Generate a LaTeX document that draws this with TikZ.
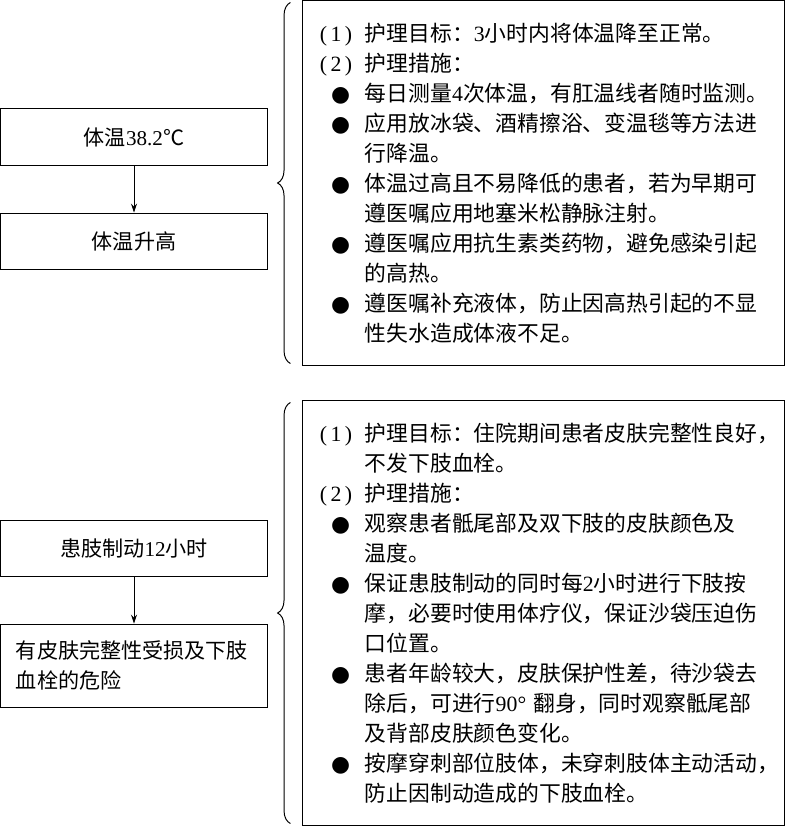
\documentclass[tikz,border=0pt]{standalone}
\usepackage{fontspec}
\setmainfont{Noto Sans CJK SC}
\newfontfamily\latin{Liberation Serif}
\newfontfamily\symb{DejaVu Sans}
\usetikzlibrary{
arrows.meta,
positioning,
decorations.pathreplacing
}

\newcommand{\nr}[1]{{\latin #1}}
\newcommand{\lead}[1]{\makebox[1.125cm][l]{#1}}
\newcommand{\head}[1]{\makebox[1.125cm][s]{\latin(\hfill#1\hfill)\hspace*{0.32cm}}}
\newcommand{\dotitem}{\lead{\hspace*{0.28cm}{\symb ●}}}

\begin{document}
\begin{tikzpicture}[
x=0.025cm, y=-0.025cm,
node distance=1.175cm,
font=\fontsize{15pt}{21.34pt}\selectfont,
box/.style={
draw,
line width=0.7pt,
minimum width=6.65cm,
minimum height=1.4cm,
align=center
},
panel/.style={
draw,
line width=0.7pt,
minimum width=12.025cm,
text width=11.175cm,
inner xsep=0.425cm,
align=left,
font=\fontsize{15.5pt}{21.34pt}\selectfont
},
brace/.style={
decorate,
decoration={brace,amplitude=0.32cm},
line width=0.7pt
},
arrow/.style={-{Stealth[length=2.2mm,width=1.5mm]},line width=0.7pt}
]
\useasboundingbox (0,0) rectangle (786,827);

% upper part
\node[box] (temp) at (134,137) {体温\nr{38.2}℃};
\node[box,below=of temp] (fever) {体温升高};
\draw[arrow] (temp) -- (fever);

\node[panel,minimum height=9.1cm] (care1) at (543.5,183) {%
\head{1}护理目标：\nr{3}小时内将体温降至正常。\\
\head{2}护理措施：\\
\dotitem 每日测量\nr{4}次体温，有肛温线者随时监测。\\
\dotitem 应用放冰袋、酒精擦浴、变温毯等方法进\\
\lead{}行降温。\\
\dotitem 体温过高且不易降低的患者，若为早期可\\
\lead{}遵医嘱应用地塞米松静脉注射。\\
\dotitem 遵医嘱应用抗生素类药物，避免感染引起\\
\lead{}的高热。\\
\dotitem 遵医嘱补充液体，防止因高热引起的不显\\
\lead{}性失水造成体液不足。};

\draw[brace] ([xshift=-0.3cm,yshift=0.05cm]care1.south west) -- ([xshift=-0.3cm,yshift=-0.05cm]care1.north west);

% lower part
\node[box] (rest) at (134,548) {患肢制动\nr{12}小时};
\node[box,below=of rest,minimum height=2.075cm,text width=5.9cm,inner xsep=0.375cm,align=left] (risk) {有皮肤完整性受损及下肢\\血栓的危险};
\draw[arrow] (rest) -- (risk);

\node[panel,minimum height=10.6cm] (care2) at (543.5,613) {%
\head{1}护理目标：住院期间患者皮肤完整性良好，\\
\lead{}不发下肢血栓。\\
\head{2}护理措施：\\
\dotitem 观察患者骶尾部及双下肢的皮肤颜色及\\
\lead{}温度。\\
\dotitem 保证患肢制动的同时每\nr{2}小时进行下肢按\\
\lead{}摩，必要时使用体疗仪，保证沙袋压迫伤\\
\lead{}口位置。\\
\dotitem 患者年龄较大，皮肤保护性差，待沙袋去\\
\lead{}除后，可进行\nr{90°} 翻身，同时观察骶尾部\\
\lead{}及背部皮肤颜色变化。\\
\dotitem 按摩穿刺部位肢体，未穿刺肢体主动活动，\\
\lead{}防止因制动造成的下肢血栓。};

\draw[brace] ([xshift=-0.3cm,yshift=0.05cm]care2.south west) -- ([xshift=-0.3cm,yshift=-0.05cm]care2.north west);

\end{tikzpicture}
\end{document}
